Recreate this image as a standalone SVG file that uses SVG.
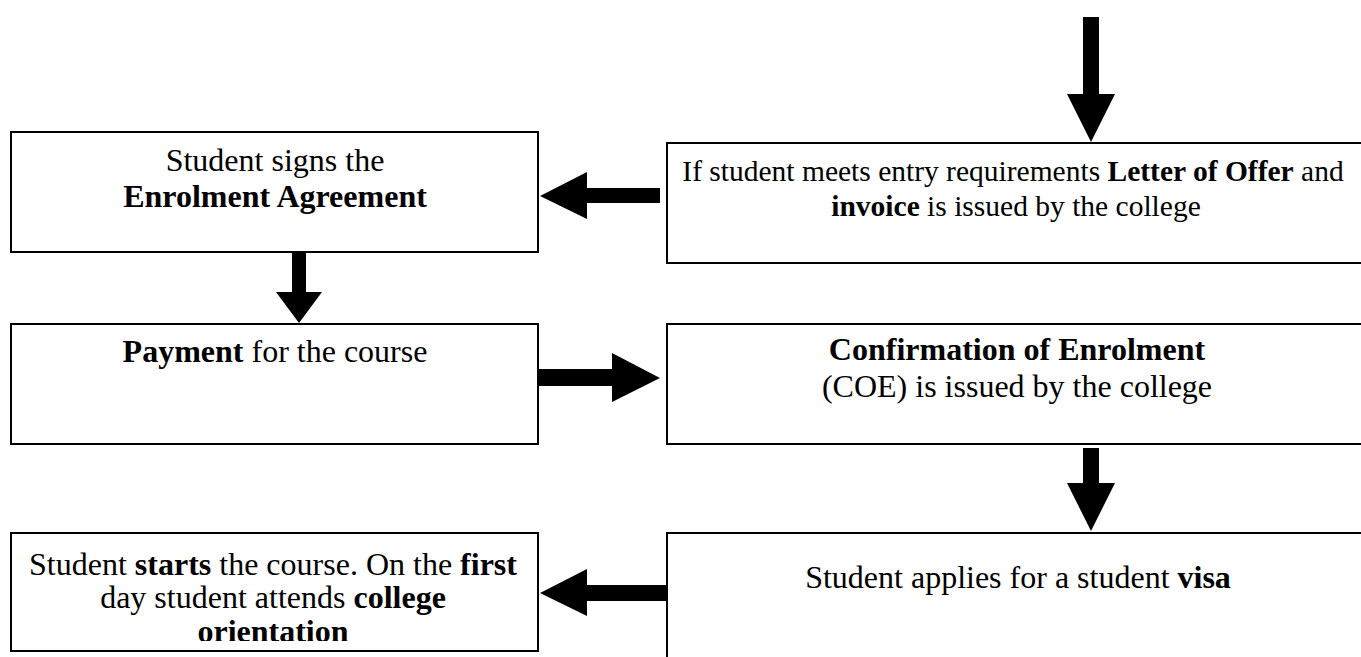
<svg xmlns="http://www.w3.org/2000/svg" width="1361" height="657" viewBox="0 0 1361 657">
<defs>
<style>
.box{fill:#fff;stroke:#000;stroke-width:2}
.arr{fill:#000;stroke:none}
text{font-family:"Palatino Linotype","Book Antiqua",Palatino,"Liberation Serif",serif;font-size:32px;fill:#000;text-anchor:middle}
.sm{font-size:29.5px}
.b{font-weight:bold}
</style>
<clipPath id="clip5"><rect x="11" y="533" width="527" height="108"/></clipPath>
</defs>
<rect width="1361" height="657" fill="#fff"/>
<g id="connectors">
<polygon class="arr" points="1083,17 1099,17 1099,94 1115,94 1091,142 1067,94 1083,94"/>
<polygon class="arr" points="660,188 660,203 587,203 587,219 540,196 587,172 587,188"/>
<polygon class="arr" points="292,252 306,252 306,292 322,292 299,323 276,292 292,292"/>
<polygon class="arr" points="538,369 612,369 612,353 660,378 612,402 612,386 538,386"/>
<polygon class="arr" points="1083,448 1099,448 1099,483 1115,483 1091,531 1067,483 1083,483"/>
<polygon class="arr" points="667,585 667,601 587,601 587,616 540,593 587,569 587,585"/>
</g>
<g id="node-sign">
<rect class="box" x="11" y="132" width="527" height="120"/>
<text x="275" y="171">Student signs the</text>
<text x="275" y="207" class="b">Enrolment Agreement</text>
</g>
<g id="node-offer">
<rect class="box" x="667" y="143" width="700" height="120"/>
<text x="1013" y="181" class="sm">If student meets entry requirements <tspan class="b">Letter of Offer</tspan> and</text>
<text x="1016" y="216" class="sm"><tspan class="b">invoice</tspan> is issued by the college</text>
</g>
<g id="node-payment">
<rect class="box" x="11" y="324" width="527" height="120"/>
<text x="275" y="362"><tspan class="b">Payment</tspan> for the course</text>
</g>
<g id="node-coe">
<rect class="box" x="667" y="324" width="700" height="120"/>
<text x="1017" y="360" class="b">Confirmation of Enrolment</text>
<text x="1017" y="397">(COE) is issued by the college</text>
</g>
<g id="node-start">
<rect class="box" x="11" y="533" width="527" height="118"/>
<g clip-path="url(#clip5)">
<text x="273" y="575">Student <tspan class="b">starts</tspan> the course. On the <tspan class="b">first</tspan></text>
<text x="273" y="608">day student attends <tspan class="b">college</tspan></text>
<text x="273" y="642" class="b">orientation</text>
</g>
</g>
<g id="node-visa">
<rect class="box" x="667" y="533" width="700" height="200"/>
<text x="1018" y="588">Student applies for a student <tspan class="b">visa</tspan></text>
</g>
</svg>
